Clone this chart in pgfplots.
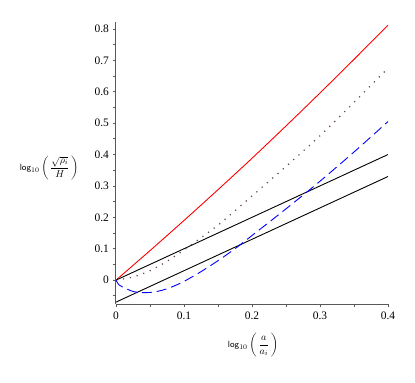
\documentclass[border=0pt]{standalone}
\usepackage{fontspec}
\setmainfont{Liberation Serif}
\usepackage{pgfplots}
\pgfplotsset{compat=1.18}
\begin{document}
\begin{tikzpicture}[x=1bp,y=1bp]
\useasboundingbox (-116bp,-79bp) rectangle (299bp,304bp);
\begin{axis}[
  at={(0,0)}, anchor=south west,
  scale only axis, width=272bp, height=282bp,
  xmin=0, xmax=0.4, ymin=-0.076, ymax=0.822,
  axis x line*=bottom, axis y line*=left,
  axis line style={black!65, line width=1bp, -},
  /pgf/number format/assume math mode=true,
  xtick={0,0.1,0.2,0.3,0.4},
  xticklabels={0,0.1,0.2,0.3,0.4},
  ytick={0,0.1,0.2,0.3,0.4,0.5,0.6,0.7,0.8},
  yticklabels={0,0.1,0.2,0.3,0.4,0.5,0.6,0.7,0.8},
  minor xtick={0.05,0.15,0.25,0.35},
  minor ytick={-0.05,0.05,0.15,0.25,0.35,0.45,0.55,0.65,0.75},
  tick align=outside,
  major tick length=3bp, minor tick length=3bp,
  tick style={black!65, line width=0.8bp},
  tick label style={font=\fontsize{11.5}{13}\selectfont},
  yticklabel style={xshift=-0.5bp},
  xticklabel style={yshift=-1bp},
  label style={font=\fontsize{12.5}{15}\selectfont},
  xlabel={$\displaystyle\hbox{\fontsize{9}{10}\sffamily log}_{10}\left(\,\frac{a}{a_i}\,\right)$},
  ylabel={$\displaystyle\hbox{\fontsize{9}{10}\sffamily log}_{10}\left(\,\frac{\sqrt{\rho_i}}{H}\,\right)$},
  every axis x label/.style={at={(rel axis cs:0.504,-0.145)}, anchor=center},
  every axis y label/.style={at={(rel axis cs:-0.246,0.482)}, anchor=center},
  clip=false,
]
% red
\addplot[red, line width=0.9bp, smooth] coordinates {
(0,0) (0.05,0.094) (0.1,0.190) (0.15,0.288) (0.2,0.388) (0.25,0.491) (0.3,0.596) (0.35,0.703) (0.4,0.812)};
% black upper
\addplot[black, line width=0.9bp] coordinates {(0,0) (0.4,0.400)};
% black lower
\addplot[black, line width=0.9bp] coordinates {(0,-0.070) (0.4,0.330)};
% dotted
\addplot[color={rgb,255:red,100;green,70;blue,75}, line width=1.2bp, dash pattern=on 1.2bp off 5.8bp, smooth] coordinates {
(0,0) (0.025,0.010) (0.05,0.030) (0.075,0.060) (0.1,0.096) (0.125,0.135) (0.15,0.175) (0.175,0.221) (0.2,0.268) (0.25,0.362) (0.3,0.460) (0.35,0.566) (0.4,0.675)};
% blue dashed
\addplot[blue, line width=0.9bp, dash pattern=on 10bp off 5bp, smooth] coordinates {
(0,0) (0.004,-0.014) (0.01,-0.022) (0.025,-0.036) (0.04,-0.040) (0.055,-0.038) (0.07,-0.031) (0.085,-0.019) (0.1,-0.004) (0.125,0.027) (0.15,0.062) (0.175,0.100) (0.2,0.142) (0.25,0.227) (0.3,0.315) (0.35,0.408) (0.4,0.505)};
\end{axis}
\end{tikzpicture}
\end{document}
